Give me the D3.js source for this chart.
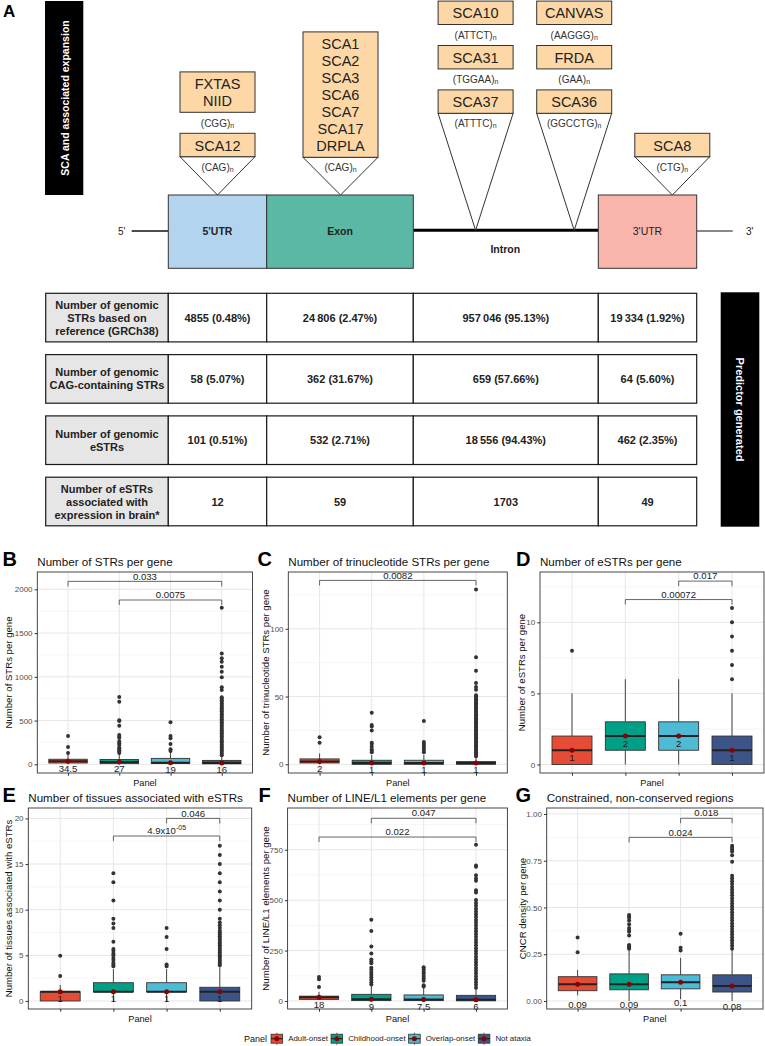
<!DOCTYPE html>
<html><head><meta charset="utf-8">
<script src="https://cdn.jsdelivr.net/npm/d3@7"></script>
<style>body{margin:0;background:#fff} svg{display:block} text{font-family:"Liberation Sans",Arial,sans-serif}</style>
</head><body><svg id="c" width="765" height="1046"></svg>
<script>
// ---------------- DATA ----------------
const regions = ["5'UTR", "Exon", "Intron", "3'UTR"];
const stackDiseases = [
  [["FXTAS", "NIID"], ["SCA12"]],
  [["SCA1", "SCA2", "SCA3", "SCA6", "SCA7", "SCA17", "DRPLA"]],
  [["SCA10"], ["SCA31"], ["SCA37"]],
  [["CANVAS"], ["FRDA"], ["SCA36"]],
  [["SCA8"]]
];
const stackMotifs = [["CGG", "CAG"], ["CAG"], ["ATTCT", "TGGAA", "ATTTC"], ["AAGGG", "GAA", "GGCCTG"], ["CTG"]];
const rowLabels = [
  ["Number of genomic", "STRs based on", "reference (GRCh38)"],
  ["Number of genomic", "CAG-containing STRs"],
  ["Number of genomic", "eSTRs"],
  ["Number of eSTRs", "associated with", "expression in brain*"]
];
const rowValues = [
  ["4855 (0.48%)", "24\u2009806 (2.47%)", "957\u2009046 (95.13%)", "19\u2009334 (1.92%)"],
  ["58 (5.07%)", "362 (31.67%)", "659 (57.66%)", "64 (5.60%)"],
  ["101 (0.51%)", "532 (2.71%)", "18\u2009556 (94.43%)", "462 (2.35%)"],
  ["12", "59", "1703", "49"]
];

const groups = ["Adult-onset", "Childhood-onset", "Overlap-onset", "Not ataxia"];
const groupColors = ["#E64B35", "#00A087", "#4DBBD5", "#3C5488"];

// box stats: [lowWhisker, q1, median, q3, highWhisker]
const strsBox = [[0, 15, 34.5, 58, 110], [0, 8, 27, 55, 120], [0, 10, 19, 68, 150], [0, 6, 16, 45, 100]];
const strsOut = [
  [130, 197, 323],
  [130, 145, 160, 180, 190, 220, 240, 260, 300, 315, 335, 440, 495, 505, 715, 770],
  [152, 171, 232, 297, 323, 480],
  [105, 122, 140, 158, 175, 193, 210, 228, 246, 263, 281, 300, 318, 336, 355, 372, 390, 408, 426, 444, 462, 480, 498, 516, 534, 552, 570, 588, 606, 624, 642, 660, 678, 696, 714, 732, 750, 768, 849, 880, 994, 1059, 1116, 1173, 1211, 1268, 1790]
];
const strsLabels = ["34.5", "27", "19", "16"];
const strsBrackets = [[0, 3, 2091, "0.033"], [1, 3, 1878, "0.0075"]];

const triBox = [[0, 1, 2, 4, 8], [0, 0, 1, 3, 7], [0, 0, 1, 3, 7], [0, 0, 1, 2, 5]];
const triOut = [
  [16, 20],
  [9, 10, 11, 13, 15, 16, 25, 28, 29, 38],
  [9, 10.5, 12, 13.5, 15, 16.5, 32],
  [6, 7, 8, 9, 10, 11, 12, 13, 14, 15, 16, 17, 18, 19, 20, 21, 22, 23, 24, 25, 26, 27, 28, 29, 30, 31, 32, 33, 34, 35, 36, 37, 38, 39, 40, 41, 42, 43, 44, 45, 46, 47, 48, 49, 50, 51, 55, 57, 60, 69, 79, 129]
];
const triLabels = ["2", "1", "1", "1"];
const triBrackets = [[0, 3, 135.7, "0.0082"]];

const estrBox = [[0, 0, 1, 2, 5], [0, 1, 2, 3, 6], [0, 1, 2, 3, 6], [0, 0, 1, 2, 5]];
const estrOut = [[8], [], [], [6, 7, 8, 9, 10, 11]];
const estrLabels = ["1", "2", "2", "1"];
const estrBrackets = [[1, 3, 11.6, "0.00072"], [2, 3, 12.9, "0.017"]];

const tissBox = [[0, 0, 1, 1, 1.75], [0, 1, 1, 2, 3.5], [0, 1, 1, 2, 3.5], [0, 0, 1, 1.5, 3.7]];
const tissOut = [
  [2.74, 4.96],
  [3.8, 4.0, 4.2, 4.5, 4.7, 5.0, 5.2, 5.5, 5.7, 6.5, 8, 8.5, 9, 11, 13, 14],
  [3.8, 4.0, 5.7, 7, 8],
  [3.9, 4.1, 4.3, 4.5, 4.7, 4.9, 5.1, 5.3, 5.5, 5.7, 5.9, 6.1, 6.3, 6.5, 6.7, 6.9, 7.1, 7.3, 7.5, 7.7, 8, 8.3, 8.6, 9, 10, 11, 12, 13, 14, 15, 16, 17]
];
const tissLabels = ["1", "1", "1", "1"];
const tissBrackets = [[1, 3, 18.07, "4.9x10^-05"], [2, 3, 20.0, "0.046"]];

const l1Box = [[5, 8, 18, 24, 45], [0, 2, 9, 33, 78], [0, 2, 7.5, 30, 70], [0, 1, 6, 28, 62]];
const l1Out = [
  [70, 108, 119],
  [82, 93, 105, 118, 130, 141, 155, 165, 187, 196, 206, 236, 270, 347, 403],
  [72, 78, 100, 113, 124, 136, 145, 157, 167],
  [66, 80, 94, 108, 122, 136, 150, 164, 178, 192, 206, 220, 234, 248, 262, 276, 290, 304, 318, 332, 346, 360, 374, 388, 402, 416, 430, 444, 458, 472, 486, 501, 538, 549, 596, 608, 623, 666, 672, 775]
];
const l1Labels = ["18", "9", "7.5", "6"];
const l1Brackets = [[0, 3, 813, "0.022"], [1, 3, 906, "0.047"]];

const cncrBox = [[0.03, 0.055, 0.09, 0.13, 0.166], [0, 0.06, 0.09, 0.145, 0.27], [0.01, 0.065, 0.10, 0.14, 0.23], [0, 0.048, 0.08, 0.14, 0.27]];
const cncrOut = [
  [0.26, 0.34],
  [0.28, 0.285, 0.29, 0.295, 0.30, 0.35, 0.37, 0.38, 0.39, 0.41, 0.43, 0.445, 0.455, 0.46],
  [0.27, 0.285, 0.36],
  [0.28, 0.295, 0.31, 0.325, 0.34, 0.355, 0.37, 0.385, 0.40, 0.415, 0.43, 0.445, 0.46, 0.475, 0.49, 0.505, 0.52, 0.535, 0.55, 0.565, 0.58, 0.595, 0.61, 0.625, 0.64, 0.655, 0.67, 0.745, 0.78, 0.80, 0.81, 0.82, 0.83]
];
const cncrLabels = ["0.09", "0.09", "0.1", "0.08"];
const cncrBrackets = [[1, 3, 0.875, "0.024"], [2, 3, 0.977, "0.018"]];

// ---------------- DRAW ----------------
const svg = d3.select("#c");
svg.append("rect").attr("width", 765).attr("height", 1046).attr("fill", "#fff");

// ===== Panel A: gene diagram =====
svg.append("text").attr("x", 3).attr("y", 17).attr("font-size", 17).attr("font-weight", "bold").text("A");
svg.append("rect").attr("x", 45).attr("y", 1).attr("width", 38.3).attr("height", 194).attr("fill", "#000");
svg.append("text").attr("transform", "translate(64.5,98) rotate(-90)").attr("text-anchor", "middle")
  .attr("dominant-baseline", "central").attr("fill", "#fff").attr("font-weight", "bold").attr("font-size", 10.5)
  .text("SCA and associated expansion");

const regionEdges = [168.3, 266.7, 413.3, 598.3, 696.7];
const regionFill = ["#b3d4ee", "#5bb8a5", null, "#f9b4ac"];
const geneTop = 195, geneBot = 268.3, geneMid = 231;

svg.append("line").attr("x1", 131.7).attr("x2", regionEdges[0]).attr("y1", geneMid).attr("y2", geneMid).attr("stroke", "#111").attr("stroke-width", 1.5);
svg.append("line").attr("x1", regionEdges[4]).attr("x2", 732.7).attr("y1", geneMid).attr("y2", geneMid).attr("stroke", "#111").attr("stroke-width", 1);
svg.append("line").attr("x1", regionEdges[2]).attr("x2", regionEdges[3]).attr("y1", 230.3).attr("y2", 230.3).attr("stroke", "#000").attr("stroke-width", 3);
svg.append("text").attr("x", 118).attr("y", geneMid).attr("dominant-baseline", "central").attr("font-size", 10).attr("fill", "#222").text("5'");
svg.append("text").attr("x", 746).attr("y", geneMid).attr("dominant-baseline", "central").attr("font-size", 10).attr("fill", "#222").text("3'");

regions.forEach((r, i) => {
  const xa = regionEdges[i], xb = regionEdges[i + 1];
  if (regionFill[i]) {
    svg.append("rect").attr("x", xa).attr("y", geneTop).attr("width", xb - xa).attr("height", geneBot - geneTop)
      .attr("fill", regionFill[i]).attr("stroke", "#333").attr("stroke-width", 1);
    svg.append("text").attr("x", (xa + xb) / 2).attr("y", geneMid).attr("text-anchor", "middle").attr("dominant-baseline", "central")
      .attr("font-size", 10.5).attr("font-weight", i === 3 ? "normal" : "bold").attr("fill", "#222").text(r);
  } else {
    svg.append("text").attr("x", (xa + xb) / 2 - 0.5).attr("y", 248.5).attr("text-anchor", "middle").attr("dominant-baseline", "central")
      .attr("font-size", 10.5).attr("font-weight", "bold").attr("fill", "#222").text(r);
  }
});

const stackCX = [217.5, 340.5, 475.6, 574.2, 672.3];
const stackBottom = [156.7, 157.3, 113.3, 113.3, 156.7];
const stackApex = [195, 195, 230.3, 230.3, 195];
const boxW = 75, lineH = 17, gapH = 21;

function motifText(g, x, y, m) {
  const t = g.append("text").attr("x", x).attr("y", y).attr("text-anchor", "middle").attr("dominant-baseline", "central")
    .attr("font-size", 10).attr("fill", "#333");
  t.append("tspan").text("(" + m + ")");
  t.append("tspan").attr("font-size", 7).attr("dy", 2).text("n");
}

stackDiseases.forEach((boxes, s) => {
  const g = svg.append("g");
  const cx = stackCX[s];
  let bottom = stackBottom[s];
  // triangle
  g.append("polygon").attr("points", `${cx - boxW / 2},${bottom} ${cx + boxW / 2},${bottom} ${cx},${stackApex[s]}`)
    .attr("fill", "#fff").attr("stroke", "#333").attr("stroke-width", 1);
  const motifs = stackMotifs[s];
  motifText(g, cx, bottom + 10, motifs[motifs.length - 1]);
  for (let i = boxes.length - 1; i >= 0; i--) {
    const lines = boxes[i];
    const h = 23.4 + (lines.length - 1) * lineH;
    const top = bottom - h;
    g.append("rect").attr("x", cx - boxW / 2).attr("y", top).attr("width", boxW).attr("height", h)
      .attr("fill", "#fdd8a6").attr("stroke", "#333").attr("stroke-width", 1);
    lines.forEach((ln, j) => {
      g.append("text").attr("x", cx).attr("y", top + h / 2 + (j - (lines.length - 1) / 2) * lineH + 0.5)
        .attr("text-anchor", "middle").attr("dominant-baseline", "central").attr("font-size", 14.5).attr("fill", "#222").text(ln);
    });
    if (i > 0) motifText(g, cx, top - gapH / 2, motifs[i - 1]);
    bottom = top - gapH;
  }
});

// ===== Table =====
const tableLeft = 45.7;
const rowTop0 = 293.3, rowStep = 61.3, rowH = 48.6;
const colEdges = [tableLeft].concat(regionEdges);
rowLabels.forEach((lab, r) => {
  const top = rowTop0 + r * rowStep;
  const cy = top + rowH / 2;
  for (let c = 0; c < 5; c++) {
    svg.append("rect").attr("x", colEdges[c]).attr("y", top).attr("width", colEdges[c + 1] - colEdges[c]).attr("height", rowH)
      .attr("fill", c === 0 ? "#e6e6e6" : "#fff").attr("stroke", "#1a1a1a").attr("stroke-width", 1.2);
  }
  lab.forEach((ln, j) => {
    svg.append("text").attr("x", (colEdges[0] + colEdges[1]) / 2).attr("y", cy + (j - (lab.length - 1) / 2) * 13)
      .attr("text-anchor", "middle").attr("dominant-baseline", "central").attr("font-size", 11).attr("font-weight", "bold")
      .attr("fill", "#222").text(ln);
  });
  rowValues[r].forEach((v, c) => {
    svg.append("text").attr("x", (colEdges[c + 1] + colEdges[c + 2]) / 2).attr("y", cy)
      .attr("text-anchor", "middle").attr("dominant-baseline", "central").attr("font-size", 11).attr("font-weight", "bold")
      .attr("fill", "#222").text(v);
  });
});
svg.append("rect").attr("x", 720.7).attr("y", 292.3).attr("width", 38.6).attr("height", 234.4).attr("fill", "#000");
svg.append("text").attr("transform", "translate(740,409.5) rotate(90)").attr("text-anchor", "middle")
  .attr("dominant-baseline", "central").attr("fill", "#fff").attr("font-weight", "bold").attr("font-size", 11)
  .text("Predictor generated");

// ===== Box plot panels =====
function addLabelText(sel, label) {
  if (label.includes("^")) {
    const [base, sup] = label.split("^");
    sel.append("tspan").text(base);
    sel.append("tspan").attr("font-size", 7).attr("dy", -4).text(sup);
  } else sel.text(label);
}

function panel(o) {
  const g = svg.append("g");
  const x = d3.scalePoint().domain(groups).range([o.x0, o.x1]).padding(0.6);
  const y = d3.scaleLinear().domain(o.domain).range([o.y1, o.y0]);
  const bw = x.step() * 0.75;
  g.append("rect").attr("x", o.x0).attr("y", o.y0).attr("width", o.x1 - o.x0).attr("height", o.y1 - o.y0).attr("fill", "#fff");
  // grid
  o.minor.forEach(v => g.append("line").attr("x1", o.x0).attr("x2", o.x1).attr("y1", y(v)).attr("y2", y(v)).attr("stroke", "#f0f0f0").attr("stroke-width", 0.6));
  o.ticks.forEach(v => g.append("line").attr("x1", o.x0).attr("x2", o.x1).attr("y1", y(v)).attr("y2", y(v)).attr("stroke", "#e6e6e6").attr("stroke-width", 1));
  groups.forEach(k => g.append("line").attr("x1", x(k)).attr("x2", x(k)).attr("y1", o.y0).attr("y2", o.y1).attr("stroke", "#e6e6e6").attr("stroke-width", 1));
  // boxes
  groups.forEach((k, i) => {
    const [lo, q1, med, q3, hi] = o.box[i];
    const cx = x(k);
    g.append("line").attr("x1", cx).attr("x2", cx).attr("y1", y(q3)).attr("y2", y(hi)).attr("stroke", "#333").attr("stroke-width", 0.9);
    g.append("line").attr("x1", cx).attr("x2", cx).attr("y1", y(q1)).attr("y2", y(lo)).attr("stroke", "#333").attr("stroke-width", 0.9);
    g.append("rect").attr("x", cx - bw / 2).attr("y", y(q3)).attr("width", bw).attr("height", Math.max(0.5, y(q1) - y(q3)))
      .attr("fill", groupColors[i]).attr("stroke", "#333").attr("stroke-width", 0.9);
    g.append("line").attr("x1", cx - bw / 2).attr("x2", cx + bw / 2).attr("y1", y(med)).attr("y2", y(med)).attr("stroke", "#222").attr("stroke-width", 2);
    g.selectAll(null).data(o.out[i]).enter().append("circle").attr("cx", cx).attr("cy", d => y(d)).attr("r", 2).attr("fill", "#333");
  });
  groups.forEach((k, i) => {
    g.append("circle").attr("cx", x(k)).attr("cy", y(o.box[i][2])).attr("r", 2.5).attr("fill", "#8B0000");
    g.append("text").attr("x", x(k)).attr("y", y(o.box[i][2]) + o.labOff).attr("text-anchor", "middle").attr("dominant-baseline", "central")
      .attr("font-size", 9.6).attr("fill", "#1a1a1a").text(o.labels[i]);
  });
  // brackets
  o.brackets.forEach(([a, b, v, lab]) => {
    const xa = x(groups[a]), xb = x(groups[b]), yy = y(v);
    g.append("path").attr("d", `M${xa},${yy + 5}V${yy}H${xb}V${yy + 5}`).attr("fill", "none").attr("stroke", "#555").attr("stroke-width", 0.9);
    const t = g.append("text").attr("x", (xa + xb) / 2).attr("y", yy - 1.8).attr("text-anchor", "middle").attr("font-size", 9.6).attr("fill", "#222");
    addLabelText(t, lab);
  });
  g.append("rect").attr("x", o.x0).attr("y", o.y0).attr("width", o.x1 - o.x0).attr("height", o.y1 - o.y0).attr("fill", "none").attr("stroke", "#333").attr("stroke-width", 0.9);
  // axes
  const ya = g.append("g").attr("transform", `translate(${o.x0},0)`)
    .call(d3.axisLeft(y).tickValues(o.ticks).tickFormat(o.fmt).tickSize(2.75).tickPadding(2));
  ya.select(".domain").remove();
  ya.selectAll("line").attr("stroke", "#333");
  ya.selectAll("text").attr("font-size", 8).attr("fill", "#4d4d4d").attr("font-family", '"Liberation Sans", Arial, sans-serif');
  const xa = g.append("g").attr("transform", `translate(0,${o.y1})`).call(d3.axisBottom(x).tickSize(2.75).tickFormat(""));
  xa.select(".domain").remove();
  xa.selectAll("line").attr("stroke", "#333");
  // titles
  g.append("text").attr("x", o.lx).attr("y", o.y0 - 6).attr("font-size", 20).attr("font-weight", "bold").attr("fill", "#000").text(o.letter);
  g.append("text").attr("x", o.x0).attr("y", o.y0 - 6.5).attr("font-size", 11.6).attr("fill", "#111").text(o.title);
  g.append("text").attr("transform", `translate(${o.ytx},${(o.y0 + o.y1) / 2}) rotate(-90)`).attr("text-anchor", "middle")
    .attr("dominant-baseline", "central").attr("font-size", 9.6).attr("fill", "#111").text(o.ytitle);
  g.append("text").attr("x", (o.x0 + o.x1) / 2).attr("y", o.y1 + 10).attr("text-anchor", "middle").attr("dominant-baseline", "central")
    .attr("font-size", 9.2).attr("fill", "#111").text("Panel");
}

const fmt0 = d3.format("d");
panel({letter: "B", lx: 2.5, title: "Number of STRs per gene", ytitle: "Number of STRs per gene", ytx: 8.5,
  x0: 37.3, x1: 252.5, y0: 572, y1: 773, domain: [-99, 2198], ticks: [0, 500, 1000, 1500, 2000], minor: [250, 750, 1250, 1750],
  fmt: fmt0, box: strsBox, out: strsOut, labels: strsLabels, brackets: strsBrackets, labOff: 7});
panel({letter: "C", lx: 257.5, title: "Number of trinucleotide STRs per gene", ytitle: "Number of trinucleotide STRs per gene", ytx: 265,
  x0: 288.3, x1: 507.3, y0: 572, y1: 773, domain: [-6.4, 141.9], ticks: [0, 50, 100], minor: [25, 75, 125],
  fmt: fmt0, box: triBox, out: triOut, labels: triLabels, brackets: triBrackets, labOff: 7});
panel({letter: "D", lx: 516, title: "Number of eSTRs per gene", ytitle: "Number of eSTRs per gene", ytx: 521,
  x0: 540, x1: 764, y0: 572, y1: 773, domain: [-0.6, 13.54], ticks: [0, 5, 10], minor: [2.5, 7.5, 12.5],
  fmt: fmt0, box: estrBox, out: estrOut, labels: estrLabels, brackets: estrBrackets, labOff: 7});
panel({letter: "E", lx: 2.5, title: "Number of tissues associated with eSTRs", ytitle: "Number of tissues associated with eSTRs", ytx: 8.5,
  x0: 28.3, x1: 251.7, y0: 808, y1: 1009, domain: [-0.88, 21.14], ticks: [0, 5, 10, 15, 20], minor: [2.5, 7.5, 12.5, 17.5],
  fmt: fmt0, box: tissBox, out: tissOut, labels: tissLabels, brackets: tissBrackets, labOff: 7});
panel({letter: "F", lx: 258.5, title: "Number of LINE/L1 elements per gene", ytitle: "Number of LINE/L1 elements per gene", ytx: 265,
  x0: 287.6, x1: 507.4, y0: 808, y1: 1009, domain: [-39.7, 957], ticks: [0, 250, 500, 750], minor: [125, 375, 625, 875],
  fmt: fmt0, box: l1Box, out: l1Out, labels: l1Labels, brackets: l1Brackets, labOff: 7});
panel({letter: "G", lx: 515.5, title: "Constrained, non-conserved regions", ytitle: "CNCR density per gene", ytx: 522.7,
  x0: 546.7, x1: 763, y0: 808, y1: 1009, domain: [-0.0428, 1.032], ticks: [0, 0.25, 0.5, 0.75, 1], minor: [0.125, 0.375, 0.625, 0.875],
  fmt: d3.format(".2f"), box: cncrBox, out: cncrOut, labels: cncrLabels, brackets: cncrBrackets, labOff: 20});

// ===== Legend =====
const leg = svg.append("g");
const legY = 1038.7;
let lx = 244;
const lt = leg.append("text").attr("x", lx).attr("y", legY).attr("dominant-baseline", "central").attr("font-size", 9).attr("fill", "#111").text("Panel");
lx += lt.node().getComputedTextLength() + 4;
groups.forEach((k, i) => {
  const kw = 11.6, cx = lx + kw / 2;
  leg.append("line").attr("x1", cx).attr("x2", cx).attr("y1", legY - 6).attr("y2", legY + 6).attr("stroke", "#333").attr("stroke-width", 0.8);
  leg.append("rect").attr("x", lx).attr("y", legY - 4.5).attr("width", kw).attr("height", 9).attr("fill", groupColors[i]).attr("stroke", "#333").attr("stroke-width", 0.8);
  leg.append("line").attr("x1", lx).attr("x2", lx + kw).attr("y1", legY).attr("y2", legY).attr("stroke", "#222").attr("stroke-width", 1.2);
  leg.append("circle").attr("cx", cx).attr("cy", legY).attr("r", 2.5).attr("fill", "#8B0000");
  lx += kw + 5.5;
  const t = leg.append("text").attr("x", lx).attr("y", legY).attr("dominant-baseline", "central").attr("font-size", 7.9).attr("fill", "#222").text(k);
  lx += t.node().getComputedTextLength() + 3;
});
</script></body></html>
